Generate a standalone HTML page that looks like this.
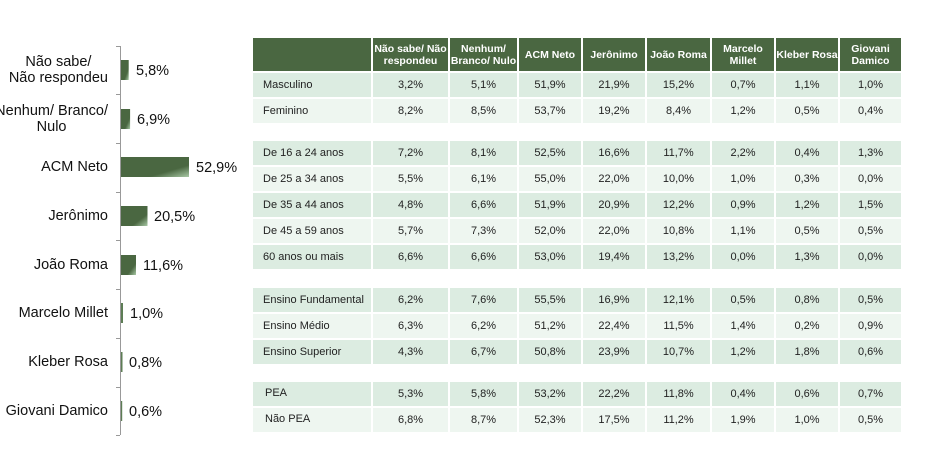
<!DOCTYPE html>
<html><head><meta charset="utf-8"><style>
body{margin:0;width:934px;height:455px;background:#fff;position:relative;overflow:hidden;font-family:"Liberation Sans",Arial,sans-serif;}
.lbl{position:absolute;right:826px;text-align:center;font-size:14.5px;line-height:16px;color:#111;white-space:nowrap;transform:translateY(-50%);}
.val{position:absolute;font-size:14.5px;color:#111;transform:translateY(-50%);}
.row{position:absolute;left:253px;display:flex;height:26px;}
.row div{box-sizing:border-box;border-right:2px solid #fff;border-bottom:2px solid #fff;font-size:11px;color:#222;display:flex;align-items:center;justify-content:center;}
.row div:first-child{justify-content:flex-start;padding-left:10px;}
.d div{background:#dcece1;}
.l div{background:#eef6f0;}
.h div{background:#4a6741;color:#fff;font-weight:bold;font-size:10.5px;text-align:center;line-height:12px;}
.c0{width:120px}.c1{width:77px}.c2{width:69px}.c3{width:64px}.c4{width:64px}.c5{width:65px}.c6{width:64px}.c7{width:64px}.c8{width:63px}
</style></head><body>
<svg width="934" height="455" style="position:absolute;left:0;top:0">
<defs><linearGradient id="g" x1="0" y1="0" x2="1" y2="1">
<stop offset="0" stop-color="#4a6741"/><stop offset="0.7" stop-color="#4a6741"/><stop offset="1" stop-color="#a9c9a6"/></linearGradient></defs>
<g stroke="#999" stroke-width="1">
<line x1="120.5" y1="46" x2="120.5" y2="435"/>
<line x1="116" y1="46.5" x2="120" y2="46.5"/><line x1="116" y1="94.5" x2="120" y2="94.5"/><line x1="116" y1="143.5" x2="120" y2="143.5"/><line x1="116" y1="192.5" x2="120" y2="192.5"/><line x1="116" y1="240.5" x2="120" y2="240.5"/><line x1="116" y1="289.5" x2="120" y2="289.5"/><line x1="116" y1="338.5" x2="120" y2="338.5"/><line x1="116" y1="387.5" x2="120" y2="387.5"/><line x1="116" y1="435.5" x2="120" y2="435.5"/>
</g>
<rect x="121" y="60" width="7.7" height="20" fill="url(#g)"/>
<rect x="121" y="109" width="9.1" height="20" fill="url(#g)"/>
<rect x="121" y="157" width="68" height="20" fill="url(#g)"/>
<rect x="121" y="206" width="26.5" height="20" fill="url(#g)"/>
<rect x="121" y="255" width="15" height="20" fill="url(#g)"/>
<rect x="121" y="303" width="2" height="20" fill="#5d7d55"/>
<rect x="121" y="352" width="1.5" height="20" fill="#5d7d55"/>
<rect x="121" y="401" width="1.2" height="20" fill="#5d7d55"/>
</svg>
<div class="lbl" style="top:70px">Não sabe/<br>Não respondeu</div>
<div class="lbl" style="top:119px">Nenhum/ Branco/<br>Nulo</div>
<div class="lbl" style="top:167px">ACM Neto</div>
<div class="lbl" style="top:216px">Jerônimo</div>
<div class="lbl" style="top:265px">João Roma</div>
<div class="lbl" style="top:313px">Marcelo Millet</div>
<div class="lbl" style="top:362px">Kleber Rosa</div>
<div class="lbl" style="top:411px">Giovani Damico</div>
<div class="val" style="left:136px;top:71px">5,8%</div>
<div class="val" style="left:137px;top:120px">6,9%</div>
<div class="val" style="left:196px;top:168px">52,9%</div>
<div class="val" style="left:154px;top:217px">20,5%</div>
<div class="val" style="left:143px;top:266px">11,6%</div>
<div class="val" style="left:130px;top:314px">1,0%</div>
<div class="val" style="left:129px;top:363px">0,8%</div>
<div class="val" style="left:129px;top:412px">0,6%</div>

<div class="row h" style="top:38px;height:35px"><div class="c0"></div><div class="c1">Não sabe/ Não respondeu</div><div class="c2">Nenhum/ Branco/ Nulo</div><div class="c3">ACM Neto</div><div class="c4">Jerônimo</div><div class="c5">João Roma</div><div class="c6">Marcelo Millet</div><div class="c7">Kleber Rosa</div><div class="c8">Giovani Damico</div></div>
<div class="row d" style="top:73px"><div class="c0">Masculino</div><div class="c1">3,2%</div><div class="c2">5,1%</div><div class="c3">51,9%</div><div class="c4">21,9%</div><div class="c5">15,2%</div><div class="c6">0,7%</div><div class="c7">1,1%</div><div class="c8">1,0%</div></div>
<div class="row l" style="top:99px"><div class="c0">Feminino</div><div class="c1">8,2%</div><div class="c2">8,5%</div><div class="c3">53,7%</div><div class="c4">19,2%</div><div class="c5">8,4%</div><div class="c6">1,2%</div><div class="c7">0,5%</div><div class="c8">0,4%</div></div>
<div class="row d" style="top:141px"><div class="c0">De 16 a 24 anos</div><div class="c1">7,2%</div><div class="c2">8,1%</div><div class="c3">52,5%</div><div class="c4">16,6%</div><div class="c5">11,7%</div><div class="c6">2,2%</div><div class="c7">0,4%</div><div class="c8">1,3%</div></div>
<div class="row l" style="top:167px"><div class="c0">De 25 a 34 anos</div><div class="c1">5,5%</div><div class="c2">6,1%</div><div class="c3">55,0%</div><div class="c4">22,0%</div><div class="c5">10,0%</div><div class="c6">1,0%</div><div class="c7">0,3%</div><div class="c8">0,0%</div></div>
<div class="row d" style="top:193px"><div class="c0">De 35 a 44 anos</div><div class="c1">4,8%</div><div class="c2">6,6%</div><div class="c3">51,9%</div><div class="c4">20,9%</div><div class="c5">12,2%</div><div class="c6">0,9%</div><div class="c7">1,2%</div><div class="c8">1,5%</div></div>
<div class="row l" style="top:219px"><div class="c0">De 45 a 59 anos</div><div class="c1">5,7%</div><div class="c2">7,3%</div><div class="c3">52,0%</div><div class="c4">22,0%</div><div class="c5">10,8%</div><div class="c6">1,1%</div><div class="c7">0,5%</div><div class="c8">0,5%</div></div>
<div class="row d" style="top:245px"><div class="c0">60 anos ou mais</div><div class="c1">6,6%</div><div class="c2">6,6%</div><div class="c3">53,0%</div><div class="c4">19,4%</div><div class="c5">13,2%</div><div class="c6">0,0%</div><div class="c7">1,3%</div><div class="c8">0,0%</div></div>
<div class="row d" style="top:288px"><div class="c0">Ensino Fundamental</div><div class="c1">6,2%</div><div class="c2">7,6%</div><div class="c3">55,5%</div><div class="c4">16,9%</div><div class="c5">12,1%</div><div class="c6">0,5%</div><div class="c7">0,8%</div><div class="c8">0,5%</div></div>
<div class="row l" style="top:314px"><div class="c0">Ensino Médio</div><div class="c1">6,3%</div><div class="c2">6,2%</div><div class="c3">51,2%</div><div class="c4">22,4%</div><div class="c5">11,5%</div><div class="c6">1,4%</div><div class="c7">0,2%</div><div class="c8">0,9%</div></div>
<div class="row d" style="top:340px"><div class="c0">Ensino Superior</div><div class="c1">4,3%</div><div class="c2">6,7%</div><div class="c3">50,8%</div><div class="c4">23,9%</div><div class="c5">10,7%</div><div class="c6">1,2%</div><div class="c7">1,8%</div><div class="c8">0,6%</div></div>
<div class="row d" style="top:382px"><div class="c0" style="padding-left:12px;align-items:flex-start;padding-top:5px">PEA</div><div class="c1">5,3%</div><div class="c2">5,8%</div><div class="c3">53,2%</div><div class="c4">22,2%</div><div class="c5">11,8%</div><div class="c6">0,4%</div><div class="c7">0,6%</div><div class="c8">0,7%</div></div>
<div class="row l" style="top:408px"><div class="c0" style="padding-left:12px;align-items:flex-start;padding-top:5px">Não PEA</div><div class="c1">6,8%</div><div class="c2">8,7%</div><div class="c3">52,3%</div><div class="c4">17,5%</div><div class="c5">11,2%</div><div class="c6">1,9%</div><div class="c7">1,0%</div><div class="c8">0,5%</div></div>
</body></html>
